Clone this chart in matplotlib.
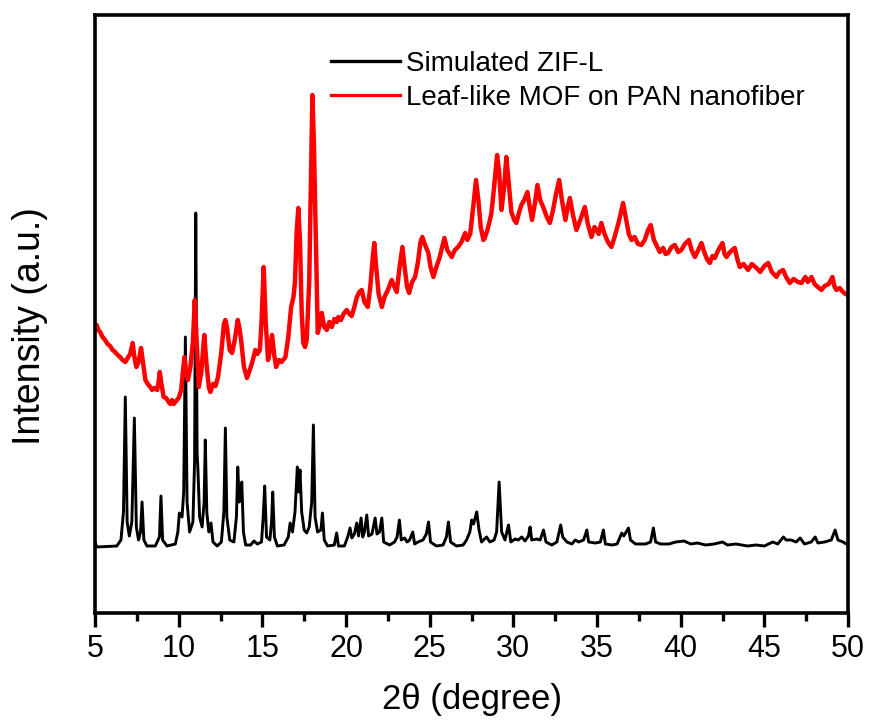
import numpy as np
import matplotlib
matplotlib.use('Agg')
import matplotlib.pyplot as plt
from matplotlib.ticker import MultipleLocator

plt.rcParams['font.family'] = ['Liberation Sans', 'DejaVu Sans']

#---------------data (2theta in degree, intensity in a.u.)---------------
sim_label = 'Simulated ZIF-L'
mof_label = 'Leaf-like MOF on PAN nanofiber'

sim_theta = [5.00, 5.10, 6.30, 6.55, 6.70, 6.81, 6.92, 7.05, 7.20, 7.35, 7.47, 7.60, 7.72, 7.81, 7.92,
             8.10, 8.60, 8.85, 8.94, 9.04, 9.30, 9.80, 9.95, 10.04, 10.20, 10.30, 10.40, 10.50, 10.65,
             10.85, 10.95, 11.02, 11.10, 11.15, 11.25, 11.40, 11.52, 11.59, 11.68, 11.80, 11.93, 12.05,
             12.30, 12.55, 12.70, 12.79, 12.88, 13.05, 13.30, 13.45, 13.53, 13.62, 13.70, 13.77, 13.87,
             14.00, 14.30, 14.50, 14.70, 14.95, 15.05, 15.14, 15.25, 15.45, 15.55, 15.62, 15.72, 15.90,
             16.30, 16.55, 16.66, 16.80, 16.95, 17.09, 17.17, 17.25, 17.35, 17.50, 17.65, 17.80, 17.95,
             18.05, 18.15, 18.30, 18.50, 18.59, 18.70, 18.90, 19.30, 19.44, 19.55, 19.90, 20.10, 20.24,
             20.35, 20.50, 20.64, 20.75, 20.90, 21.00, 21.10, 21.24, 21.35, 21.55, 21.74, 21.85, 22.00,
             22.14, 22.25, 22.60, 22.90, 23.05, 23.19, 23.30, 23.50, 23.65, 23.80, 23.99, 24.10, 24.30,
             24.60, 24.80, 24.93, 25.05, 25.40, 25.80, 26.00, 26.12, 26.25, 26.60, 27.00, 27.20, 27.40,
             27.51, 27.62, 27.81, 27.95, 28.10, 28.40, 28.60, 28.85, 29.00, 29.15, 29.30, 29.50, 29.71,
             29.85, 30.10, 30.30, 30.50, 30.70, 30.90, 31.00, 31.10, 31.40, 31.60, 31.80, 31.95, 32.30,
             32.60, 32.83, 32.95, 33.20, 33.50, 33.70, 33.90, 34.20, 34.39, 34.50, 34.90, 35.20, 35.38,
             35.50, 35.90, 36.20, 36.48, 36.60, 36.88, 37.00, 37.30, 37.90, 38.20, 38.37, 38.50, 38.80,
             39.30, 39.70, 40.20, 40.60, 41.00, 41.50, 42.00, 42.50, 42.80, 43.30, 44.00, 44.50, 45.00,
             45.50, 45.80, 46.14, 46.30, 46.60, 46.90, 47.14, 47.40, 47.80, 48.04, 48.20, 48.60, 49.00,
             49.23, 49.40, 49.70, 50.00]
sim_int = [70, 65, 66, 72, 100, 215, 90, 76, 90, 194, 85, 72, 80, 110, 72,
           66, 66, 75, 116, 72, 66, 68, 80, 99, 95, 120, 275, 110, 80,
           90, 150, 399, 160, 142, 95, 85, 110, 172, 100, 80, 89, 70,
           66, 70, 100, 184, 95, 72, 70, 95, 145, 110, 112, 130, 80,
           67, 67, 71, 68, 70, 95, 126, 75, 72, 90, 120, 75, 66,
           67, 75, 89, 80, 100, 145, 120, 142, 100, 82, 79, 85, 110,
           187, 95, 80, 82, 99, 72, 66, 67, 79, 66, 66, 75, 84,
           74, 78, 89, 76, 94, 75, 80, 97, 76, 78, 94, 78, 80,
           94, 70, 67, 70, 75, 92, 72, 74, 70, 72, 80, 68, 70,
           72, 78, 90, 70, 66, 67, 75, 90, 70, 66, 67, 72, 80,
           92, 88, 100, 82, 70, 75, 70, 72, 80, 130, 80, 72, 87,
           70, 73, 72, 75, 71, 76, 85, 72, 73, 72, 82, 70, 67,
           70, 87, 75, 70, 68, 72, 70, 72, 82, 70, 69, 70, 82,
           68, 67, 68, 79, 76, 84, 72, 68, 68, 70, 84, 70, 68,
           68, 70, 71, 68, 69, 67, 68, 70, 67, 68, 66, 67, 66,
           70, 68, 75, 72, 72, 70, 74, 68, 70, 75, 69, 70, 72,
           82, 72, 70, 67]

mof_theta = [5.00, 5.10, 5.20, 5.30, 5.45, 5.60, 5.75, 5.90, 6.05, 6.20, 6.35, 6.50, 6.65, 6.81, 6.95,
             7.10, 7.25, 7.35, 7.47, 7.60, 7.75, 7.88, 8.01, 8.15, 8.30, 8.41, 8.55, 8.71, 8.80, 8.87,
             8.95, 9.10, 9.25, 9.40, 9.50, 9.60, 9.70, 9.85, 10.00, 10.15, 10.25, 10.35, 10.45, 10.55,
             10.70, 10.85, 10.96, 11.05, 11.20, 11.35, 11.53, 11.65, 11.80, 11.89, 12.05, 12.20, 12.35,
             12.55, 12.70, 12.79, 12.88, 13.05, 13.19, 13.35, 13.53, 13.62, 13.73, 13.90, 14.08, 14.25,
             14.40, 14.58, 14.70, 14.85, 14.95, 15.08, 15.20, 15.34, 15.45, 15.58, 15.70, 15.82, 16.00,
             16.15, 16.38, 16.55, 16.72, 16.86, 16.95, 17.05, 17.15, 17.25, 17.35, 17.45, 17.55, 17.65,
             17.80, 17.92, 17.99, 18.08, 18.19, 18.31, 18.40, 18.55, 18.70, 18.85, 19.00, 19.15, 19.30,
             19.45, 19.54, 19.70, 19.85, 20.04, 20.20, 20.34, 20.50, 20.65, 20.80, 20.94, 21.10, 21.30,
             21.45, 21.60, 21.69, 21.80, 21.95, 22.14, 22.30, 22.50, 22.73, 22.90, 23.03, 23.20, 23.37,
             23.50, 23.65, 23.77, 23.95, 24.13, 24.30, 24.45, 24.56, 24.70, 24.92, 25.05, 25.22, 25.40,
             25.60, 25.75, 25.88, 26.05, 26.20, 26.32, 26.50, 26.70, 26.90, 27.12, 27.25, 27.42, 27.60,
             27.77, 27.92, 28.05, 28.21, 28.29, 28.45, 28.60, 28.69, 28.85, 29.03, 29.15, 29.29, 29.45,
             29.58, 29.72, 29.88, 30.05, 30.18, 30.35, 30.48, 30.65, 30.84, 30.98, 31.12, 31.30, 31.44,
             31.60, 31.78, 32.00, 32.18, 32.35, 32.55, 32.74, 32.90, 33.11, 33.25, 33.38, 33.55, 33.77,
             34.00, 34.27, 34.45, 34.67, 34.85, 34.97, 35.10, 35.26, 35.45, 35.65, 35.86, 36.05, 36.30,
             36.56, 36.75, 36.90, 37.06, 37.25, 37.45, 37.65, 37.85, 38.05, 38.21, 38.40, 38.60, 38.75,
             38.95, 39.10, 39.25, 39.45, 39.65, 39.85, 40.04, 40.25, 40.49, 40.65, 40.85, 41.05, 41.24,
             41.45, 41.60, 41.74, 41.90, 42.04, 42.25, 42.50, 42.62, 42.74, 42.95, 43.23, 43.40, 43.53,
             43.75, 44.03, 44.25, 44.53, 44.75, 45.00, 45.23, 45.45, 45.72, 45.90, 46.12, 46.30, 46.52,
             46.75, 47.00, 47.22, 47.45, 47.60, 47.82, 48.00, 48.20, 48.41, 48.60, 48.85, 49.07, 49.20,
             49.31, 49.50, 49.70, 49.85, 50.00]
mof_int = [285, 287, 282, 280, 275, 272, 268, 266, 262, 260, 257, 255, 252, 250, 254,
           258, 269, 255, 245, 250, 264, 248, 232, 228, 225, 222, 224, 222, 230, 240,
           230, 215, 214, 210, 208, 212, 208, 211, 214, 222, 240, 255, 238, 232,
           245, 270, 312, 280, 225, 240, 277, 250, 225, 220, 228, 226, 235,
           260, 288, 292, 285, 262, 259, 272, 292, 285, 272, 245, 234, 242,
           250, 262, 258, 262, 290, 345, 290, 252, 262, 277, 258, 245, 252,
           250, 255, 275, 305, 315, 330, 380, 404, 370, 300, 269, 265, 272,
           330, 450, 517, 470, 380, 279, 285, 299, 285, 282, 290, 285, 293,
           290, 295, 292, 298, 302, 298, 296, 305, 315, 320, 322, 310, 305,
           325, 355, 369, 345, 318, 305, 315, 322, 332, 325, 320, 345, 365,
           345, 325, 319, 330, 335, 350, 370, 375, 368, 359, 345, 335, 345,
           355, 365, 374, 362, 358, 355, 362, 365, 370, 379, 372, 378, 405,
           432, 410, 385, 372, 374, 382, 392, 399, 425, 457, 440, 402, 425,
           455, 430, 400, 392, 389, 400, 407, 412, 420, 405, 392, 410, 427,
           412, 405, 395, 389, 400, 418, 432, 412, 392, 405, 414, 398, 382,
           392, 405, 388, 375, 385, 382, 378, 389, 378, 370, 365, 375, 390,
           409, 392, 378, 372, 375, 368, 367, 372, 382, 387, 372, 365, 360,
           364, 358, 359, 365, 367, 360, 362, 368, 372, 362, 355, 362, 369,
           358, 352, 349, 356, 354, 362, 369, 358, 355, 360, 364, 352, 345,
           348, 342, 348, 344, 340, 346, 349, 340, 335, 340, 342, 335, 329,
           333, 330, 329, 335, 330, 335, 328, 325, 322, 326, 328, 335, 325,
           322, 324, 320, 318, 317]

x_ticks = [5, 10, 15, 20, 25, 30, 35, 40, 45, 50]

#---------------plot---------------
fig = plt.figure(figsize=(8.71, 7.27), dpi=100)
ax = fig.add_axes([0.1091, 0.1568, 0.8645, 0.8226])

ax.plot(sim_theta, sim_int, color='black', lw=2.1, label=sim_label)
ax.plot(mof_theta, mof_int, color='#ff0000', lw=3.2, label=mof_label)

ax.set_xlim(5, 50)
ax.set_ylim(-1, 597)
ax.set_xticks(x_ticks)
ax.xaxis.set_minor_locator(MultipleLocator(2.5))
ax.set_yticks([])
ax.tick_params(axis='x', which='major', direction='out', length=10, width=2.4, labelsize=22, pad=5)
ax.tick_params(axis='x', which='minor', direction='out', length=6, width=2.4)
for sp in ax.spines.values():
    sp.set_linewidth(2.6)

ax.set_xlabel('2θ (degree)', fontsize=25, labelpad=14)
ax.set_ylabel('Intensity (a.u.)', fontsize=27)
ax.yaxis.set_label_coords(-0.063, 0.48)

leg = ax.legend(loc='upper left', bbox_to_anchor=(0.313, 0.94), frameon=False, fontsize=20,
                handlelength=2.5, handletextpad=0.2, labelspacing=0.3, borderpad=0, borderaxespad=0)
leg.get_lines()[0].set_linewidth(2.4)
leg.get_lines()[1].set_linewidth(2.4)

fig.savefig('out.png', dpi=100)
